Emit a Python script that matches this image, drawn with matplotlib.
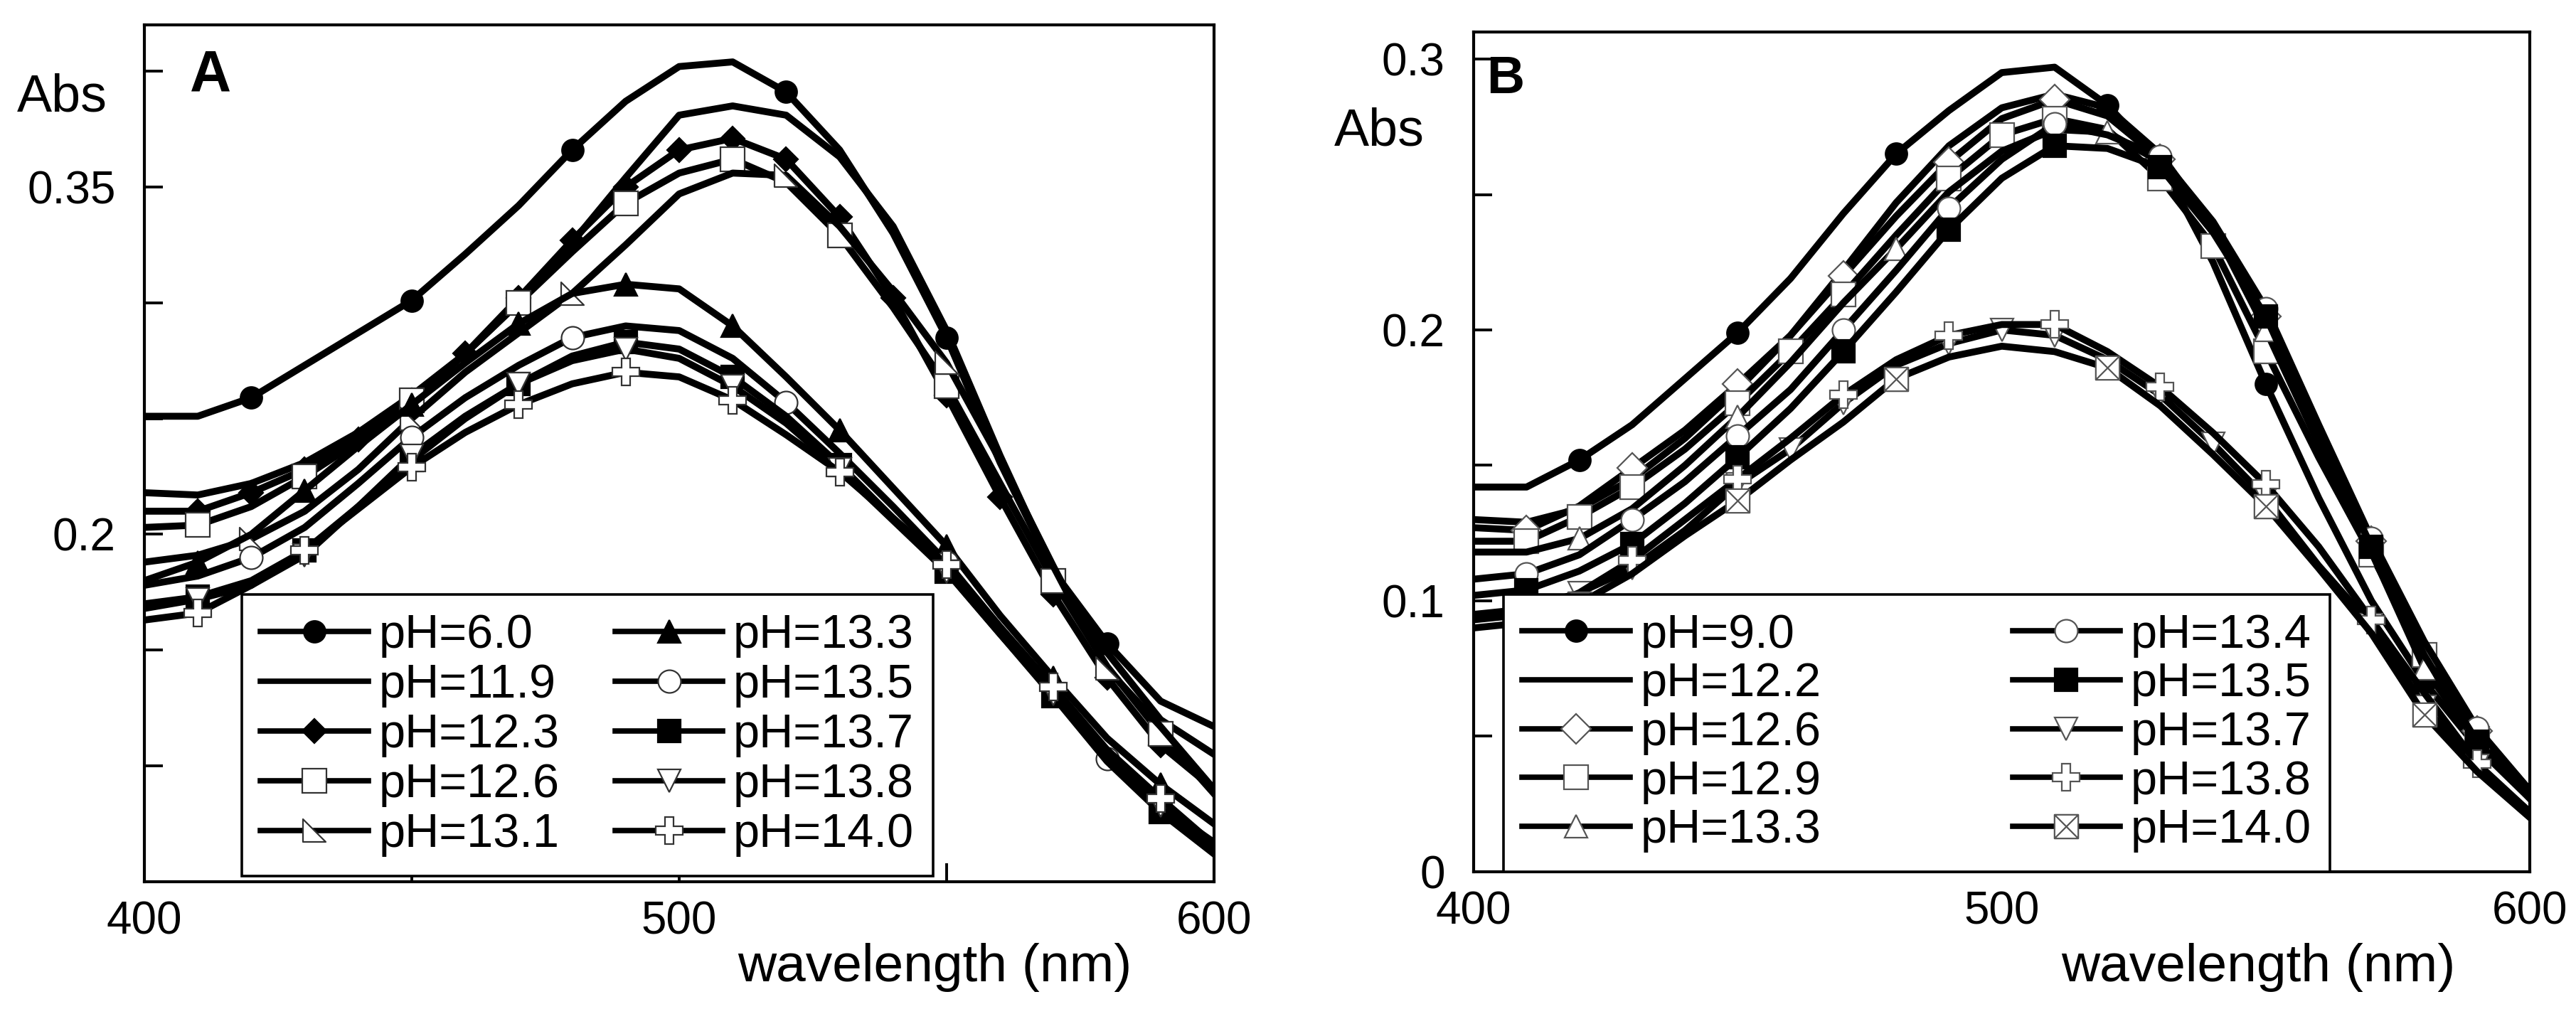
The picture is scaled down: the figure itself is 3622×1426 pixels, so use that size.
import matplotlib
matplotlib.use("Agg")
import matplotlib.pyplot as plt
from matplotlib.path import Path
from matplotlib.ticker import FixedLocator, FixedFormatter

plt.rcParams['font.family'] = ['Liberation Sans', 'DejaVu Sans']

# ---------------- data ----------------
wavelength = [400, 410, 420, 430, 440, 450, 460, 470, 480, 490, 500,
              510, 520, 530, 540, 550, 560, 570, 580, 590, 600]

# Panel A
a_labels = ["pH=6.0", "pH=11.9", "pH=12.3", "pH=12.6", "pH=13.1",
            "pH=13.3", "pH=13.5", "pH=13.7", "pH=13.8", "pH=14.0"]
a_ph60 = [0.251, 0.251, 0.259, 0.273, 0.287, 0.301, 0.321, 0.342, 0.366, 0.387, 0.402,
          0.404, 0.391, 0.366, 0.330, 0.285, 0.231, 0.184, 0.153, 0.128, 0.117]
a_ph119 = [0.218, 0.217, 0.222, 0.231, 0.244, 0.260, 0.278, 0.300, 0.326, 0.354, 0.381,
           0.385, 0.381, 0.363, 0.333, 0.288, 0.234, 0.184, 0.149, 0.120, 0.105]
a_ph123 = [0.210, 0.210, 0.218, 0.228, 0.241, 0.258, 0.278, 0.302, 0.327, 0.350, 0.366,
           0.371, 0.362, 0.337, 0.302, 0.260, 0.216, 0.174, 0.138, 0.109, 0.090]
a_ph126 = [0.203, 0.204, 0.212, 0.225, 0.240, 0.258, 0.278, 0.300, 0.322, 0.343, 0.356,
           0.362, 0.352, 0.329, 0.298, 0.264, 0.222, 0.180, 0.143, 0.114, 0.088]
a_ph131 = [0.188, 0.191, 0.198, 0.210, 0.228, 0.250, 0.270, 0.287, 0.304, 0.325, 0.347,
           0.356, 0.355, 0.333, 0.305, 0.274, 0.232, 0.186, 0.142, 0.117, 0.090]
a_ph133 = [0.180, 0.188, 0.200, 0.219, 0.238, 0.256, 0.274, 0.291, 0.304, 0.308, 0.306,
           0.290, 0.268, 0.245, 0.220, 0.195, 0.165, 0.138, 0.112, 0.092, 0.075]
a_ph135 = [0.178, 0.182, 0.190, 0.203, 0.222, 0.242, 0.259, 0.273, 0.285, 0.290, 0.288,
           0.276, 0.257, 0.235, 0.212, 0.188, 0.160, 0.133, 0.103, 0.083, 0.067]
a_ph137 = [0.170, 0.173, 0.180, 0.193, 0.212, 0.232, 0.250, 0.265, 0.277, 0.283, 0.280,
           0.268, 0.251, 0.230, 0.207, 0.184, 0.157, 0.130, 0.102, 0.080, 0.062]
a_ph138 = [0.168, 0.172, 0.178, 0.191, 0.212, 0.234, 0.251, 0.265, 0.275, 0.280, 0.276,
           0.264, 0.248, 0.228, 0.206, 0.184, 0.157, 0.131, 0.104, 0.083, 0.064]
a_ph140 = [0.163, 0.166, 0.178, 0.193, 0.211, 0.229, 0.244, 0.256, 0.265, 0.270, 0.268,
           0.258, 0.243, 0.227, 0.207, 0.187, 0.160, 0.134, 0.107, 0.086, 0.066]

# Panel B
b_labels = ["pH=9.0", "pH=12.2", "pH=12.6", "pH=12.9", "pH=13.3",
            "pH=13.4", "pH=13.5", "pH=13.7", "pH=13.8", "pH=14.0"]
b_ph90 = [0.142, 0.142, 0.152, 0.165, 0.182, 0.199, 0.219, 0.243, 0.265, 0.281, 0.295,
          0.297, 0.283, 0.262, 0.225, 0.180, 0.138, 0.100, 0.070, 0.046, 0.027]
b_ph122 = [0.130, 0.129, 0.134, 0.145, 0.160, 0.178, 0.198, 0.222, 0.247, 0.268, 0.282,
           0.287, 0.282, 0.265, 0.238, 0.205, 0.160, 0.120, 0.082, 0.052, 0.030]
b_ph126 = [0.127, 0.126, 0.135, 0.149, 0.163, 0.180, 0.198, 0.220, 0.242, 0.262, 0.278,
           0.285, 0.279, 0.263, 0.237, 0.205, 0.160, 0.122, 0.083, 0.052, 0.030]
b_ph129 = [0.122, 0.122, 0.131, 0.142, 0.156, 0.173, 0.192, 0.213, 0.235, 0.256, 0.272,
           0.278, 0.274, 0.256, 0.231, 0.192, 0.153, 0.117, 0.080, 0.049, 0.028]
b_ph133 = [0.118, 0.118, 0.123, 0.134, 0.150, 0.168, 0.188, 0.210, 0.230, 0.251, 0.266,
           0.274, 0.273, 0.262, 0.238, 0.200, 0.158, 0.118, 0.075, 0.048, 0.028]
b_ph134 = [0.108, 0.110, 0.117, 0.130, 0.144, 0.161, 0.178, 0.200, 0.222, 0.245, 0.263,
           0.276, 0.272, 0.264, 0.240, 0.208, 0.165, 0.123, 0.085, 0.053, 0.030]
b_ph135 = [0.102, 0.104, 0.111, 0.121, 0.136, 0.153, 0.171, 0.192, 0.214, 0.237, 0.256,
           0.268, 0.267, 0.260, 0.236, 0.205, 0.162, 0.120, 0.080, 0.048, 0.027]
b_ph137 = [0.095, 0.097, 0.103, 0.112, 0.126, 0.143, 0.156, 0.173, 0.187, 0.195, 0.200,
           0.198, 0.189, 0.176, 0.158, 0.138, 0.113, 0.091, 0.061, 0.039, 0.022]
b_ph138 = [0.093, 0.095, 0.103, 0.115, 0.130, 0.145, 0.160, 0.176, 0.189, 0.198, 0.202,
           0.202, 0.192, 0.179, 0.162, 0.143, 0.120, 0.093, 0.066, 0.040, 0.022]
b_ph140 = [0.090, 0.092, 0.099, 0.110, 0.124, 0.137, 0.152, 0.166, 0.182, 0.190, 0.194,
           0.192, 0.186, 0.172, 0.154, 0.135, 0.112, 0.088, 0.058, 0.037, 0.020]

a_series = [a_ph60, a_ph119, a_ph123, a_ph126, a_ph131,
            a_ph133, a_ph135, a_ph137, a_ph138, a_ph140]
b_series = [b_ph90, b_ph122, b_ph126, b_ph129, b_ph133,
            b_ph134, b_ph135, b_ph137, b_ph138, b_ph140]

# ---------------- marker shapes ----------------
right_tri = Path([(-1, 1), (-1, -1), (1, -1), (-1, 1)],
                 [Path.MOVETO, Path.LINETO, Path.LINETO, Path.CLOSEPOLY])
box_x = Path([(-1, -1), (1, -1), (1, 1), (-1, 1), (-1, -1),
              (-1, -1), (1, 1), (-1, 1), (1, -1)],
             [Path.MOVETO, Path.LINETO, Path.LINETO, Path.LINETO, Path.CLOSEPOLY,
              Path.MOVETO, Path.LINETO, Path.MOVETO, Path.LINETO])

every33 = [2, 5, 8, 12, 15, 18]
every20 = [1, 3, 5, 7, 9, 11, 13, 15, 17, 19]
every10 = list(range(1, 20))
every13 = [1, 2, 3, 5, 6, 7, 9, 10, 11, 13, 14, 15, 17, 18, 19]

# (marker, facecolor, markersize, markevery)
a_style = [
    ('o', 'black', 22, every33),
    (None, 'black', 0, None),
    ('D', 'black', 17, every10),
    ('s', 'white', 24, every20),
    (right_tri, 'white', 23, every33),
    ('^', 'black', 23, every20),
    ('o', 'white', 23, every33),
    ('s', 'black', 23, every20),
    ('v', 'white', 23, every20),
    ('P', 'white', 27, every20),
]
b_style = [
    ('o', 'black', 22, every33),
    (None, 'black', 0, None),
    ('D', 'white', 21, every20),
    ('s', 'white', 24, every13),
    ('^', 'white', 23, every33),
    ('o', 'white', 23, every20),
    ('s', 'black', 23, every20),
    ('v', 'white', 23, every13),
    ('P', 'white', 27, every20),
    (box_x, 'white', 24, every33),
]

TICK_FS = 46
LEG_FS = 48
LW = 7

fig = plt.figure(figsize=(36.22, 14.26), dpi=100)
axA = fig.add_axes([0.0560, 0.1304, 0.4153, 0.8451])
axB = fig.add_axes([0.5721, 0.1403, 0.4100, 0.8282])


def draw(ax, series, labels, styles, edge):
    for y, lab, (mk, fc, ms, me) in zip(series, labels, styles):
        kw = dict(color='black', lw=LW, label=lab, solid_joinstyle='round')
        if mk is not None:
            ec = 'black' if fc == 'black' else edge
            kw.update(marker=mk, markersize=ms, markerfacecolor=fc,
                      markeredgecolor=ec, markeredgewidth=1.6, markevery=me)
        ax.plot(wavelength, y, **kw)


draw(axA, a_series, a_labels, a_style, '#333333')
draw(axB, b_series, b_labels, b_style, '#555555')

for ax in (axA, axB):
    ax.set_xlim(400, 600)
    for s in ax.spines.values():
        s.set_linewidth(3)
    ax.tick_params(direction='in', length=19, width=2.8, labelsize=TICK_FS)
    ax.tick_params(axis='y', pad=29)
    ax.tick_params(axis='x', pad=19)
    ax.xaxis.set_major_locator(FixedLocator([400, 450, 500, 550, 600]))
    ax.xaxis.set_major_formatter(FixedFormatter(['400', '', '500', '', '600']))

axA.set_ylim(0.05, 0.42)
axA.yaxis.set_major_locator(FixedLocator([0.1, 0.15, 0.2, 0.25, 0.3, 0.35, 0.4]))
axA.yaxis.set_major_formatter(FixedFormatter(['', '', '0.2', '', '', '0.35', '']))

axB.set_ylim(0, 0.31)
axB.yaxis.set_major_locator(FixedLocator([0, 0.05, 0.1, 0.15, 0.2, 0.25, 0.3]))
axB.yaxis.set_major_formatter(FixedFormatter(['0', '', '0.1', '', '0.2', '', '0.3']))

# panel letters and "Abs"
axA.text(0.0426, 0.923, 'A', transform=axA.transAxes, fontsize=58,
         fontweight='bold', ha='left', va='baseline')
axB.text(0.012, 0.927, 'B', transform=axB.transAxes, fontsize=53,
         fontweight='bold', ha='left', va='baseline')
axA.text(-0.0346, 0.8988, 'Abs', transform=axA.transAxes, fontsize=53,
         ha='right', va='baseline')
axB.text(-0.0465, 0.8645, 'Abs', transform=axB.transAxes, fontsize=53,
         ha='right', va='baseline')

# x labels
fig.text((203 + 0.739 * 1504) / 3622, 1 - 1380 / 1426, 'wavelength (nm)',
         fontsize=54, ha='center', va='baseline')
fig.text((2072 + 0.743 * 1485) / 3622, 1 - 1380 / 1426, 'wavelength (nm)',
         fontsize=54, ha='center', va='baseline')

# legends
legA = axA.legend(loc='lower left', bbox_to_anchor=(0.0910, 0.007, 0.6463, 0.335),
                  mode='expand', ncol=2, fontsize=LEG_FS, frameon=True,
                  fancybox=False, framealpha=1, edgecolor='black',
                  borderaxespad=0, borderpad=0.4, handlelength=2.27,
                  handletextpad=0.22, labelspacing=0.12, columnspacing=1.2)
legA.get_frame().set_linewidth(2.6)

legB = axB.legend(loc='lower left', bbox_to_anchor=(0.028, 0.0, 0.783, 0.337),
                  mode='expand', ncol=2, fontsize=LEG_FS, frameon=True,
                  fancybox=False, framealpha=1, edgecolor='black',
                  borderaxespad=0, borderpad=0.4, handlelength=2.27,
                  handletextpad=0.22, labelspacing=0.1, columnspacing=1.2)
legB.get_frame().set_linewidth(2.6)

for leg in (legA, legB):
    for ln in leg.get_lines():
        ln.set_linewidth(5.5)

fig.savefig('out.png', dpi=100)
